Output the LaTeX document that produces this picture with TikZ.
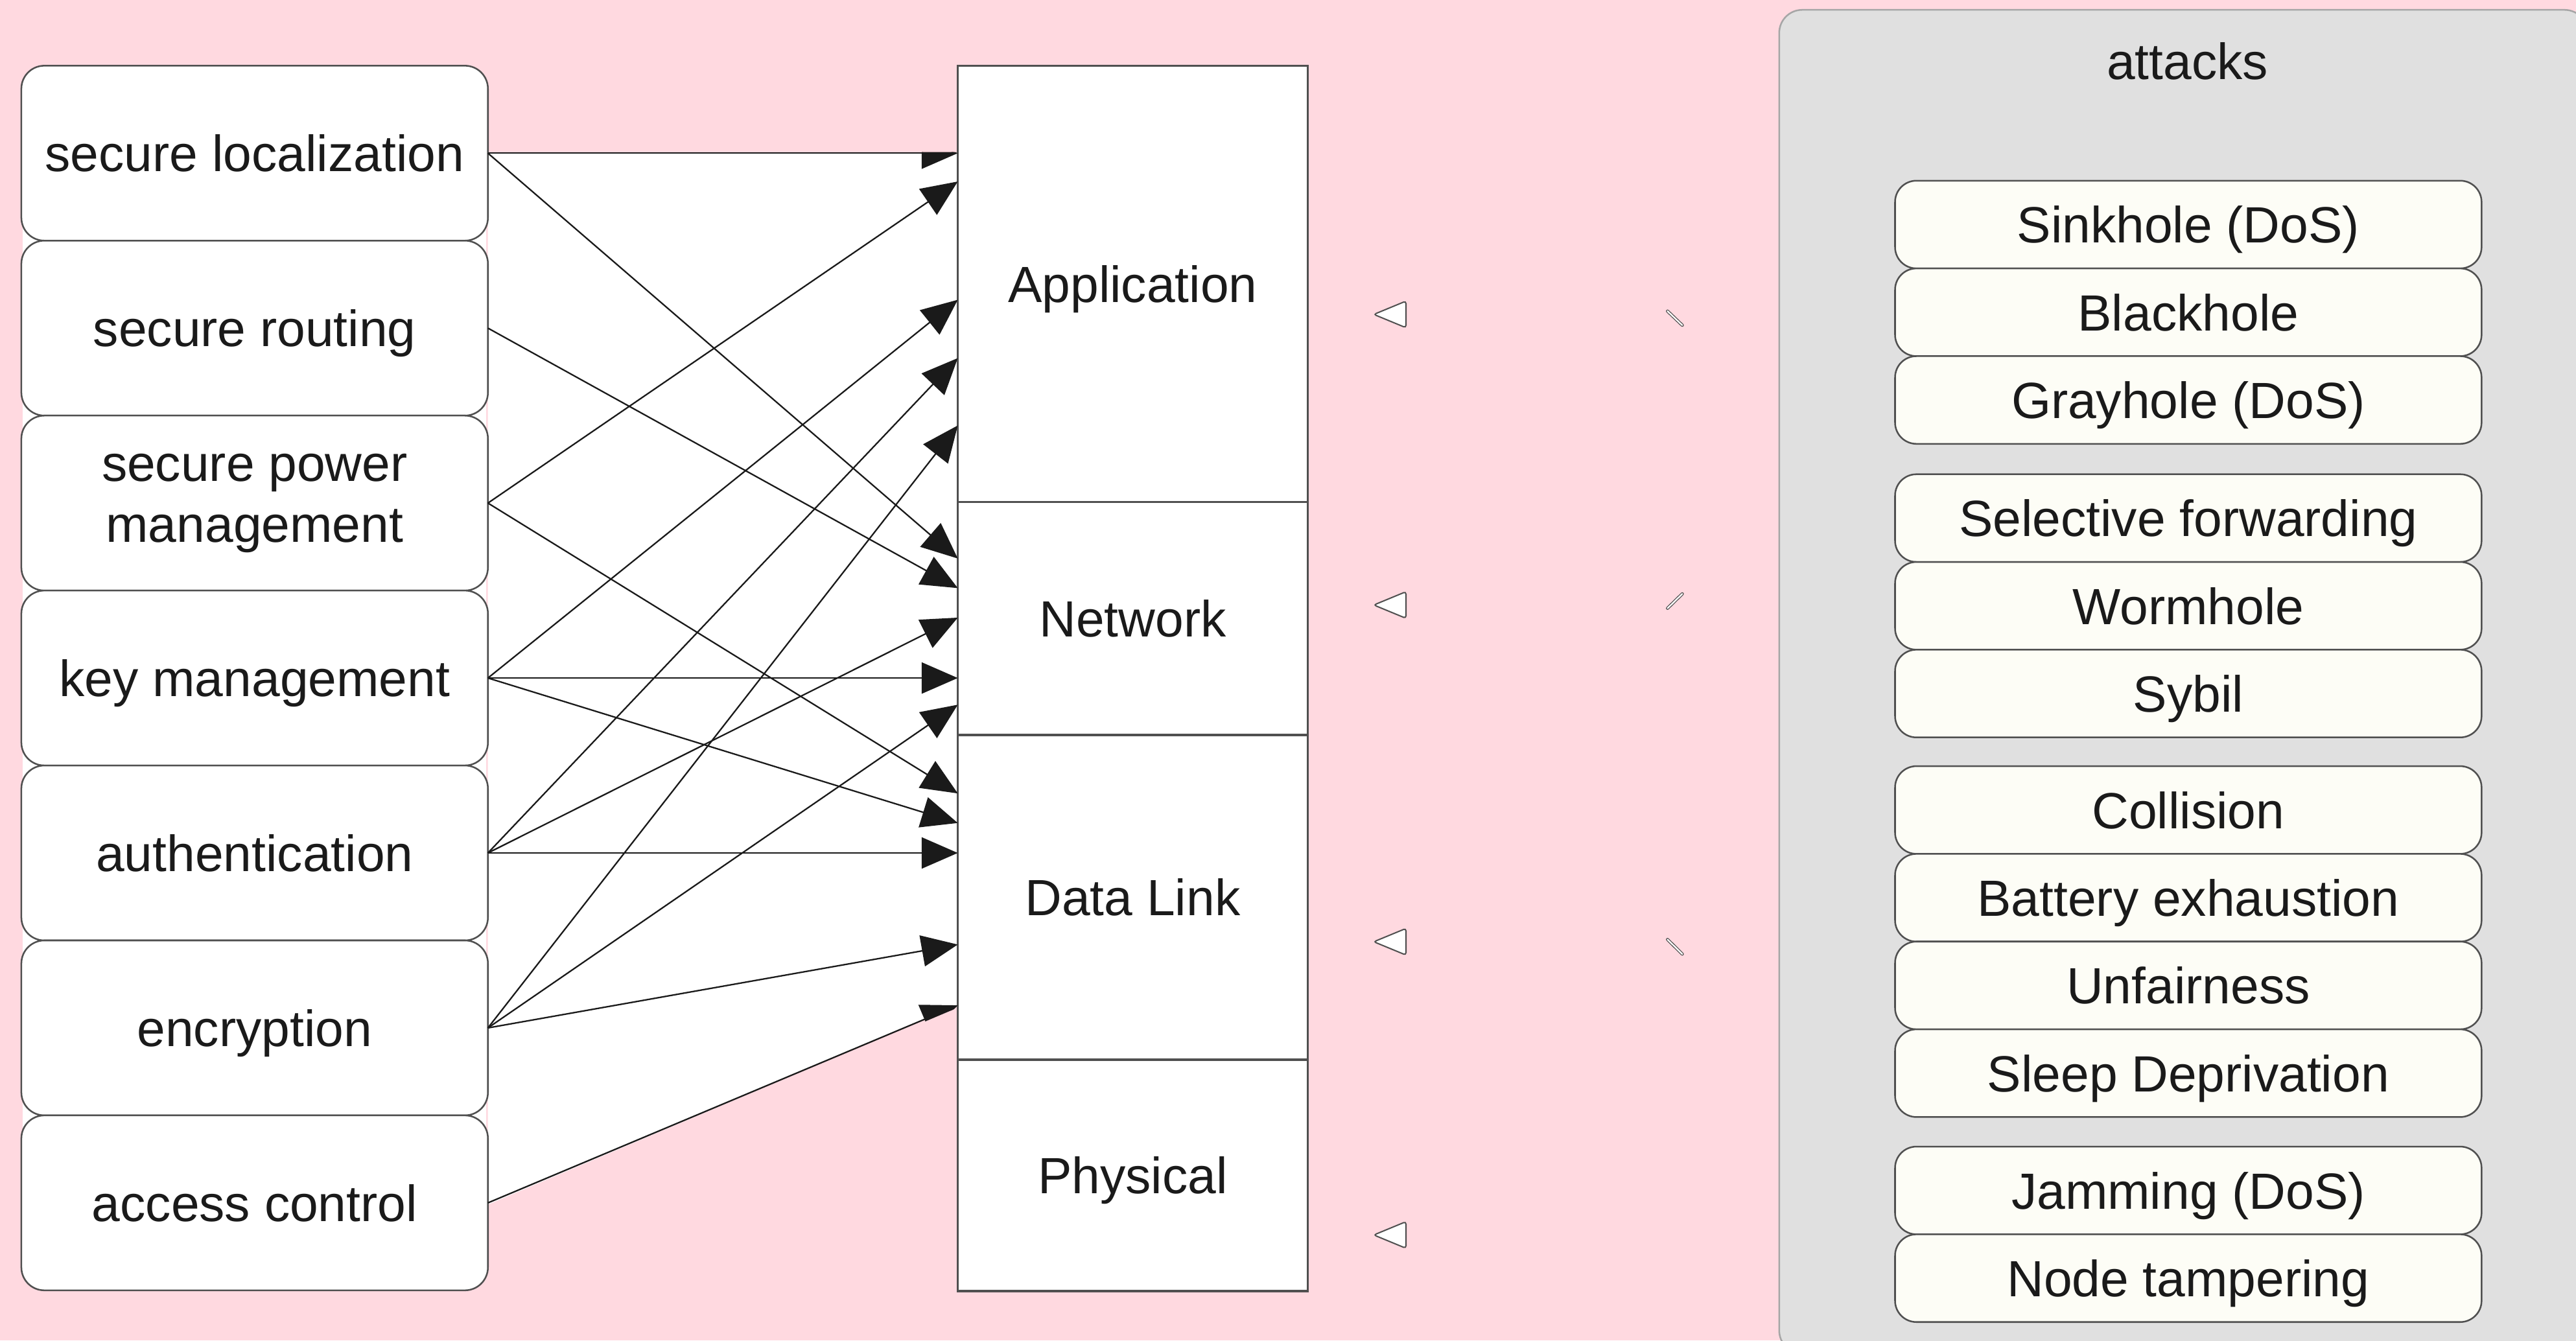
\documentclass[tikz,border=0pt]{standalone}
\usepackage{fontspec}
\setmainfont{Liberation Sans}
\usetikzlibrary{positioning}
\usetikzlibrary{arrows.meta}

\definecolor{bgpink}{RGB}{255,217,224}
\definecolor{panelgray}{RGB}{224,224,224}
\definecolor{ivory}{RGB}{253,253,246}
\definecolor{edgegray}{RGB}{80,80,80}
\definecolor{ink}{RGB}{26,26,26}

\tikzset{
	oneline/.style={text height=27pt, text depth=4.5pt},
	service/.style={draw=edgegray, line width=1pt, fill=white, rounded corners=14pt, minimum width=284pt, minimum height=106.5pt, align=center, inner sep=0pt, outer sep=0pt},
	layer/.style={draw=edgegray, line width=1.4pt, fill=white, minimum width=213pt, inner sep=0pt, outer sep=0pt, oneline},
	attack/.style={draw=edgegray, line width=1pt, fill=ivory, rounded corners=13pt, minimum width=357pt, minimum height=53.4pt, inner sep=0pt, outer sep=0pt, oneline},
	maparrow/.style={draw=ink, line width=0.9pt, -{Triangle[length=22pt,width=19pt]}},
	stub/.style={fill=white, draw=edgegray, line width=0.8pt, rounded corners=1.5pt},
	sliver/.style={draw=edgegray, double=white, double distance=0.9pt, line width=0.5pt, line cap=round},
}

\begin{document}
\begin{tikzpicture}[x=1pt, y=-1pt, font=\fontsize{31}{37}\selectfont, text=ink]
	\useasboundingbox (0,0) rectangle (1568,816);
	\fill[bgpink] (0,0) rectangle (1568,816);
	\fill[white] (14,133) rectangle (296,692);
	\fill[white] (297,92.8) -- (583,92.8) -- (583,612) -- (297,733.25) -- cycle;

	\node[layer, minimum height=265.5pt] (app) at (689.5,172.75) {Application};
	\node[layer, minimum height=142pt, below=0pt of app] (net) {Network};
	\node[layer, minimum height=197.5pt, below=0pt of net] (dl) {Data Link};
	\node[layer, minimum height=141pt, below=0pt of dl] (phy) {Physical};

	\node[service, oneline] (loc) at (155,93.25) {secure localization};
	\node[service, oneline, below=0pt of loc] (rout) {secure routing};
	\node[service, below=0pt of rout] (pow) {secure power\\management};
	\node[service, oneline, below=0pt of pow] (key) {key management};
	\node[service, oneline, below=0pt of key] (auth) {authentication};
	\node[service, oneline, below=0pt of auth] (enc) {encryption};
	\node[service, oneline, below=0pt of enc] (acc) {access control};

	\begin{scope}
		\clip (290,92.6) -- (600,92.6) -- (600,613.4) -- (583,613.4) -- (297,734.6) -- (290,734.6) -- cycle;
		\draw[maparrow] (loc.east) -- (app.west |- loc.east);
		\draw[maparrow] (loc.east) -- (net.west |- 0,340);
		\draw[maparrow] (rout.east) -- (net.west |- 0,358);
		\draw[maparrow] (pow.east) -- (app.west |- 0,110.5);
		\draw[maparrow] (pow.east) -- (dl.west |- 0,483);
		\draw[maparrow] (key.east) -- (app.west |- 0,182.5);
		\draw[maparrow] (key.east) -- (net.west |- key.east);
		\draw[maparrow] (key.east) -- (dl.west |- 0,501);
		\draw[maparrow] (auth.east) -- (app.west |- 0,218);
		\draw[maparrow] (auth.east) -- (net.west |- 0,376);
		\draw[maparrow] (auth.east) -- (dl.west |- auth.east);
		\draw[maparrow] (enc.east) -- (app.west |- 0,259);
		\draw[maparrow] (enc.east) -- (net.west |- 0,429);
		\draw[maparrow] (enc.east) -- (dl.west |- 0,575);
		\draw[maparrow] (acc.east) -- (dl.west |- 0,612);
	\end{scope}

	\draw[stub] (836.2,191.4) -- (855.8,183.3) -- (855.8,199.5) -- cycle;
	\draw[stub] (836.2,368.3) -- (855.8,360.2) -- (855.8,376.4) -- cycle;
	\draw[stub] (836.2,573.3) -- (855.8,565.2) -- (855.8,581.4) -- cycle;
	\draw[stub] (836.2,751.8) -- (855.8,743.7) -- (855.8,759.9) -- cycle;
	\draw[sliver] (1015,189.4) -- (1024,198);
	\draw[sliver] (1024,361.5) -- (1015,370.3);
	\draw[sliver] (1015,571.9) -- (1024,580.8);

	\draw[draw=gray!70, fill=panelgray, line width=1pt, rounded corners=14pt] (1083,6) rectangle (1575,824);
	\node[oneline] (title) at (1331.5,37) {attacks};
	\node[attack] (sink) at (1332,136.7) {Sinkhole (DoS)};
	\node[attack, below=0pt of sink] (black) {Blackhole};
	\node[attack, below=0pt of black] (grey) {Grayhole (DoS)};
	\node[attack, below=18.5pt of grey] (selfwd) {Selective forwarding};
	\node[attack, below=0pt of selfwd] (worm) {Wormhole};
	\node[attack, below=0pt of worm] (sybil) {Sybil};
	\node[attack, below=17.5pt of sybil] (coll) {Collision};
	\node[attack, below=0pt of coll] (batt) {Battery exhaustion};
	\node[attack, below=0pt of batt] (unfair) {Unfairness};
	\node[attack, below=0pt of unfair] (sleep) {Sleep Deprivation};
	\node[attack, below=18pt of sleep] (jam) {Jamming (DoS)};
	\node[attack, below=0pt of jam] (tamper) {Node tampering};
\end{tikzpicture}
\end{document}
